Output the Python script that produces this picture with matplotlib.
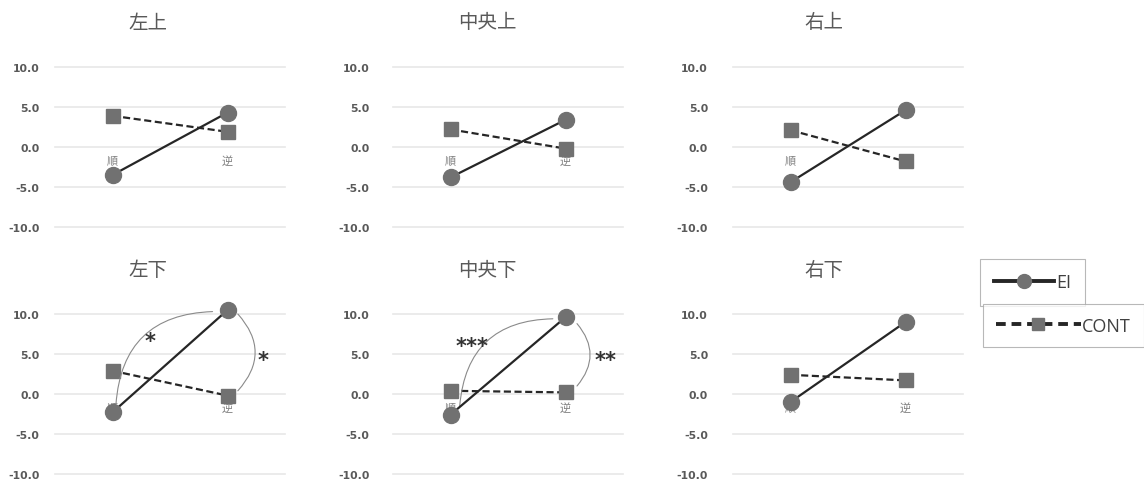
import numpy as np
from matplotlib import pyplot as plt
from matplotlib.lines import Line2D
from matplotlib.ticker import FormatStrFormatter

plt.rcParams['font.family'] = ['Noto Sans CJK JP', 'DejaVu Sans']

# =============================================================================
# Data
# =============================================================================
titles = ["左上", "中央上", "右上", "左下", "中央下", "右下"]
conditions = ["順", "逆"]
ei_values = [[-3.5, 4.3], [-3.8, 3.4], [-4.4, 4.6],
             [-2.3, 10.5], [-2.6, 9.6], [-1.0, 9.0]]
cont_values = [[3.9, 1.9], [2.2, -0.2], [2.1, -1.8],
               [2.9, -0.2], [0.4, 0.2], [2.4, 1.7]]
yticks = [-10, -5, 0, 5, 10]

# significance marks: panel index, arc start, arc end, rad, label, label pos
sig_marks = [
    (3, (0.03, -1.3), (0.87, 10.3), -0.45, "*", (0.33, 6.6)),
    (3, (1.09, 10.0), (1.09, 0.4), -0.45, "*", (1.31, 4.3)),
    (4, (0.08, -1.5), (0.89, 9.4), -0.45, "***", (0.19, 6.0)),
    (4, (1.10, 8.8), (1.10, 1.0), -0.42, "**", (1.35, 4.3)),
]

# =============================================================================
# Layout
# =============================================================================
W, H = 1144, 481
fig = plt.figure(figsize=(W / 100, H / 100), dpi=100)

col_x = [55, 393, 733]
col_pad = [11, 17, 18]
title_x = [148, 487, 824]
row_top = [68, 315]
title_y = [23, 271]
ax_w, ax_h = 230, 160

grey_txt = "#595959"
marker_col = "#717171"
line_col = "#262626"

axes = []
for i in range(6):
    r, c = divmod(i, 3)
    ax = fig.add_axes([col_x[c] / W, 1 - (row_top[r] + ax_h) / H, ax_w / W, ax_h / H])
    ax.set_facecolor("none")
    x = np.arange(len(conditions))

    ax.plot(x, ei_values[i], color=line_col, lw=1.6, marker="o", ms=11.5,
            mfc=marker_col, mec=marker_col, clip_on=False, zorder=4)
    ax.plot(x, cont_values[i], color=line_col, lw=1.6, ls=(0, (3.2, 1.6)), marker="s",
            ms=10.5, mfc=marker_col, mec=marker_col, clip_on=False, zorder=3)

    ax.set_xlim(-0.5, 1.5)
    ax.set_ylim(-10, 10)
    ax.set_yticks(yticks)
    ax.yaxis.set_major_formatter(FormatStrFormatter("%.1f"))
    ax.tick_params(axis="y", length=0, pad=col_pad[c], labelsize=7.8, labelcolor=grey_txt)
    for lab in ax.get_yticklabels():
        lab.set_fontweight("bold")
        lab.set_family("DejaVu Sans")

    ax.set_xticks(x)
    ax.set_xticklabels(conditions)
    ax.spines["bottom"].set_position(("data", 0))
    ax.tick_params(axis="x", length=0, pad=6, labelsize=8, labelcolor="#7f7f7f")
    for s in ax.spines.values():
        s.set_visible(False)

    ax.yaxis.grid(True, color="#e8e8e8", lw=1.2)
    ax.set_axisbelow(True)
    for gl in ax.get_ygridlines():
        gl.set_clip_on(False)

    fig.text(title_x[c] / W, 1 - title_y[r] / H, titles[i], ha="center", va="center",
             fontsize=14, color=grey_txt)
    axes.append(ax)

for idx, start, end, rad, label, lpos in sig_marks:
    ax = axes[idx]
    ax.annotate("", xy=end, xytext=start,
                arrowprops=dict(arrowstyle="-", color="#8a8a8a", lw=0.8,
                                shrinkA=0, shrinkB=0,
                                connectionstyle=f"arc3,rad={rad}"),
                annotation_clip=False)
    ax.text(lpos[0], lpos[1], label, ha="center", va="center", fontsize=15,
            fontweight="bold", family="DejaVu Sans", color="#333333", clip_on=False)

# =============================================================================
# Legend
# =============================================================================
ei_handle = Line2D([], [], color=line_col, lw=2.8, marker="o", ms=10,
                   mfc=marker_col, mec=marker_col)
cont_handle = Line2D([], [], color=line_col, lw=2.8, ls=(0, (2.5, 1.5)), marker="s",
                     ms=8, mfc=marker_col, mec=marker_col)

leg1 = fig.legend([ei_handle], ["EI"], loc="upper left",
                  bbox_to_anchor=(980 / W, 1 - 260 / H), frameon=True, fancybox=False,
                  handlelength=3.3, handletextpad=0.1, borderpad=0.8, borderaxespad=0,
                  prop={"family": "Open Sans", "size": 13})
leg1.get_frame().set_edgecolor("#a6a6a6")
leg1.get_frame().set_linewidth(0.8)
for t in leg1.get_texts():
    t.set_color("#404040")

leg2 = fig.legend([cont_handle], ["CONT"], loc="upper left",
                  bbox_to_anchor=(983 / W, 1 - 305 / H), frameon=True, fancybox=False,
                  handlelength=4.7, handletextpad=0.1, borderpad=0.7, borderaxespad=0,
                  prop={"family": "Open Sans", "size": 13})
leg2.get_frame().set_edgecolor("#a6a6a6")
leg2.get_frame().set_linewidth(0.8)
for t in leg2.get_texts():
    t.set_color("#404040")

fig.savefig("out.png", dpi=100)
